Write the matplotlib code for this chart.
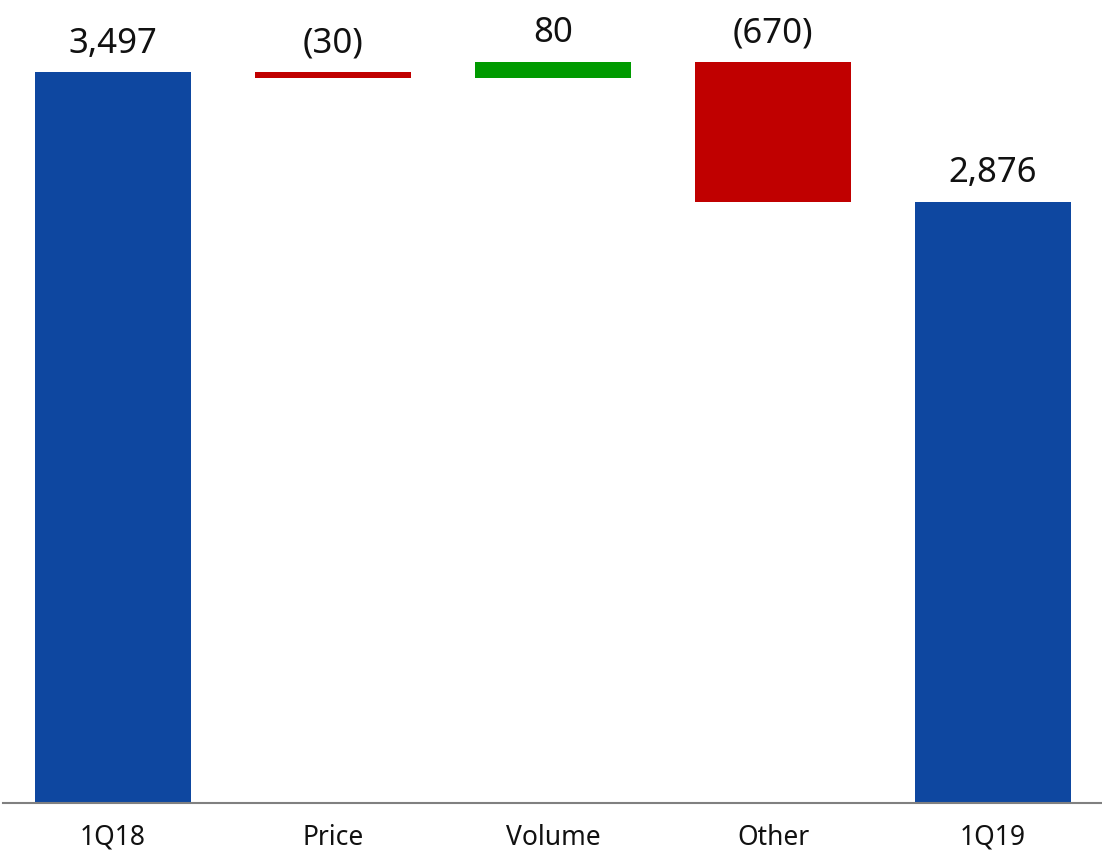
import matplotlib.pyplot as plt
import numpy as np

# waterfall data
categories = ['1Q18', 'Price', 'Volume', 'Other', '1Q19']
changes = [3497, -30, 80, -670, 2876]
is_total = [True, False, False, False, True]
labels = ['3,497', '(30)', '80', '(670)', '2,876']

blue = '#0E47A0'
red = '#C00000'
green = '#009A00'

plt.rcParams['font.family'] = ['Noto Sans', 'DejaVu Sans']

fig = plt.figure(figsize=(11.02, 8.56), dpi=100)
ax = fig.add_axes([3 / 1102, 53 / 856, 1 - 3 / 1102, 1 - 53 / 856])

running = 0
for i, (cat, val, tot) in enumerate(zip(categories, changes, is_total)):
    if tot:
        bottom, height, color = 0, val, blue
        running = val
    else:
        bottom = running if val > 0 else running + val
        height = abs(val)
        color = green if val > 0 else red
        running += val
    ax.bar(i, height, bottom=bottom, width=0.71, color=color)
    ax.annotate(labels[i], (i, bottom + height), xytext=(0, 14),
                textcoords='offset points', ha='center', va='baseline',
                fontsize=25, color='#111111')

ax.set_xlim(-0.5, 4.495)
ax.set_ylim(0, 803 / (731 / 3497))
ax.set_xticks(range(len(categories)))
ax.set_xticklabels(categories, fontsize=19, color='#111111')
ax.tick_params(axis='x', length=0, pad=15)
ax.set_yticks([])
for s in ['top', 'right', 'left']:
    ax.spines[s].set_visible(False)
ax.spines['bottom'].set_color('#808080')
ax.spines['bottom'].set_linewidth(1.5)

fig.savefig('out.png', dpi=100)
